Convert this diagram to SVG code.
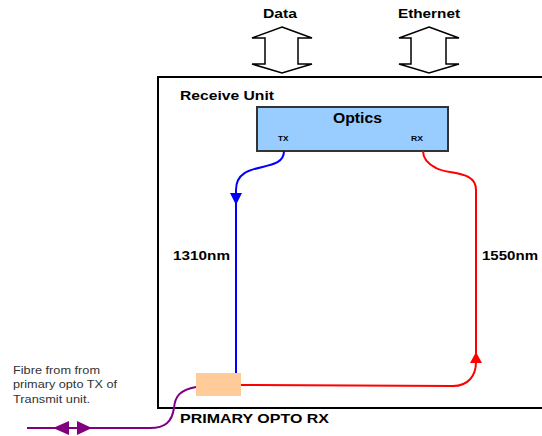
<svg xmlns="http://www.w3.org/2000/svg" width="542" height="436" viewBox="0 0 542 436">
<defs>
<style>
.lbl{font-family:"Liberation Sans",Arial,sans-serif;font-weight:bold;fill:#000}
.note{font-family:"Liberation Sans",Arial,sans-serif;font-size:11px;fill:#333}
.blk{fill:#fff;stroke:#000;stroke-width:1.5}
.wire{fill:none;stroke-width:2}
</style>
</defs>
<rect width="542" height="436" fill="#fff"/>
<g id="receive-unit">
<path d="M543,77 L158,77 L158,408 L543,408" fill="none" stroke="#000" stroke-width="2"/>
<text class="lbl" x="180" y="100" font-size="13" textLength="94" lengthAdjust="spacingAndGlyphs">Receive Unit</text>
</g>
<g id="data">
<text class="lbl" x="263" y="18" font-size="13" textLength="34" lengthAdjust="spacingAndGlyphs">Data</text>
<path class="blk" d="M282,27 L312,38 L298,38 L298,64 L312,64 L282,73 L252,64 L265,64 L265,38 L252,38 Z"/>
</g>
<g id="ethernet">
<text class="lbl" x="398" y="18" font-size="13" textLength="62" lengthAdjust="spacingAndGlyphs">Ethernet</text>
<path class="blk" d="M429,27 L459,38 L446,38 L446,64 L459,64 L429,73 L399,64 L411,64 L411,38 L399,38 Z"/>
</g>
<g id="optics">
<rect x="257" y="107" width="191" height="44" fill="#99CCFF" stroke="#333" stroke-width="2"/>
<text class="lbl" x="333" y="123" font-size="14" textLength="49" lengthAdjust="spacingAndGlyphs">Optics</text>
<text class="lbl" x="278" y="141" font-size="7.5" textLength="10.5" lengthAdjust="spacingAndGlyphs">TX</text>
<text class="lbl" x="411" y="141" font-size="7.5" textLength="12" lengthAdjust="spacingAndGlyphs">RX</text>
</g>
<g id="primary-opto-rx">
<rect x="196" y="373" width="45" height="23" fill="#FFCC99"/>
<text class="lbl" x="180" y="423" font-size="13" textLength="149" lengthAdjust="spacingAndGlyphs">PRIMARY OPTO RX</text>
</g>
<g id="fibre-note">
<text class="note" x="13" y="374" textLength="87" lengthAdjust="spacingAndGlyphs">Fibre from from</text>
<text class="note" x="13" y="388" textLength="104" lengthAdjust="spacingAndGlyphs">primary opto TX of</text>
<text class="note" x="13" y="403" textLength="77" lengthAdjust="spacingAndGlyphs">Transmit unit.</text>
</g>
<g id="connectors">
<path class="wire" stroke="#0000FF" d="M284,151 C284,175 236,158 236,190 L236,373"/>
<polygon fill="#0000FF" points="230,193 242,193 236,205"/>
<path class="wire" stroke="#FF0000" d="M241,385 L453,386 C468,386 476,376 476,362 L476,190 C476,170 448,175 436,168 C428,164 423,158 423,151"/>
<polygon fill="#FF0000" points="470,363 482,363 476,352"/>
<path class="wire" stroke="#800080" d="M196,387 C180,390 175,396 174,408 C172,422 165,428 150,428 L27,428"/>
<polygon fill="#800080" points="53,428 69,421 69,435"/>
<polygon fill="#800080" points="92,428 77,421 77,435"/>
<text class="lbl" x="173" y="260" font-size="13" textLength="57" lengthAdjust="spacingAndGlyphs">1310nm</text>
<text class="lbl" x="482" y="260" font-size="13" textLength="56" lengthAdjust="spacingAndGlyphs">1550nm</text>
</g>
</svg>
